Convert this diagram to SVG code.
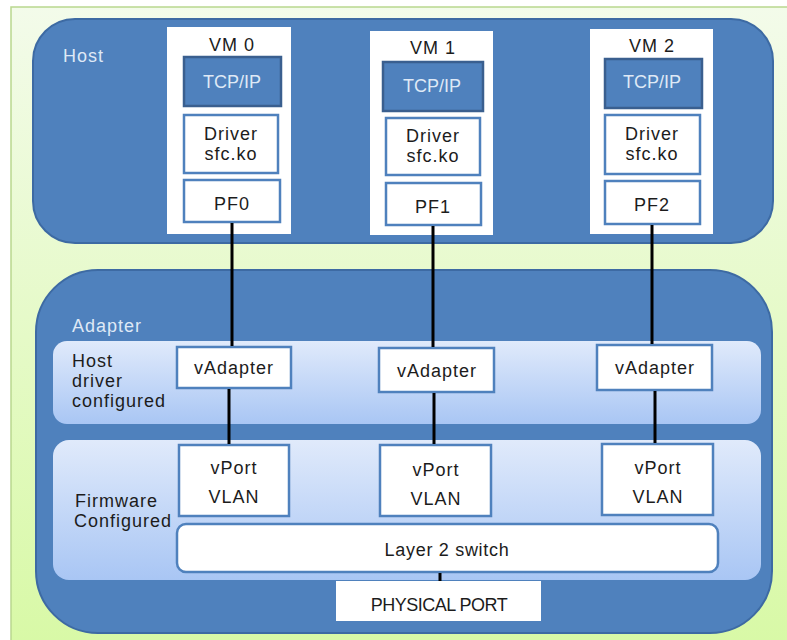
<svg xmlns="http://www.w3.org/2000/svg" width="787" height="640" viewBox="0 0 787 640">
<defs>
<linearGradient id="bg" x1="0" y1="0" x2="0" y2="1">
<stop offset="0" stop-color="#f3fbea"/>
<stop offset="1" stop-color="#d8f9a6"/>
</linearGradient>
<linearGradient id="band" x1="0" y1="0" x2="0" y2="1">
<stop offset="0" stop-color="#e0eafb"/>
<stop offset="1" stop-color="#a9c6f4"/>
</linearGradient>
<style>
text{font-family:"Liberation Sans",Arial,sans-serif;font-size:18px;fill:#1c1c1c;text-anchor:middle;letter-spacing:1px}
.cap{letter-spacing:-0.5px}
.tcpt{letter-spacing:0}
.lbl{text-anchor:start;fill:#1c1c1c}
.inv{fill:#dfe9f6}
.big{fill:#4f81bd;stroke:#3d6aa3;stroke-width:2}
.vm{fill:#ffffff}
.tcp{fill:#4f81bd;stroke:#3a5f8f;stroke-width:2.5}
.wb{fill:#ffffff;stroke:#4f81bd;stroke-width:2.5}
.band{fill:url(#band)}
.conn{stroke:#000;stroke-width:3;fill:none}
</style>
</defs>
<rect x="11" y="7" width="790" height="640" fill="url(#bg)" stroke="#b9d88e" stroke-width="1.5"/>

<g id="host">
<rect class="big" x="33" y="19" width="740" height="224" rx="42"/>
<text class="lbl inv" x="63" y="62">Host</text>
</g>

<g id="adapter">
<rect class="big" x="36" y="270" width="736" height="363" rx="62"/>
<text class="lbl inv" x="72" y="332">Adapter</text>
</g>

<g id="host-driver-band">
<rect class="band" x="53" y="341" width="708" height="83" rx="14"/>
<text class="lbl" x="72" y="367">Host</text>
<text class="lbl" x="72" y="387">driver</text>
<text class="lbl" x="72" y="407">configured</text>
</g>

<g id="firmware-band">
<rect class="band" x="53" y="440" width="708" height="140" rx="16"/>
<text class="lbl" x="75" y="507">Firmware</text>
<text class="lbl" x="74" y="527">Configured</text>
</g>

<g id="vm0">
<rect class="vm" x="167" y="27" width="124" height="207"/>
<text x="232" y="51">VM 0</text>
<rect class="tcp" x="184" y="57" width="97" height="49"/>
<text class="inv tcpt" x="232" y="88">TCP/IP</text>
<rect class="wb" x="184" y="115" width="94" height="58"/>
<text x="231" y="140">Driver</text>
<text x="231" y="160">sfc.ko</text>
<rect class="wb" x="184" y="180" width="96" height="42"/>
<text x="232" y="210">PF0</text>
</g>

<g id="vm1">
<rect class="vm" x="370" y="31" width="123" height="204"/>
<text x="433" y="54">VM 1</text>
<rect class="tcp" x="383" y="62" width="100" height="49"/>
<text class="inv tcpt" x="432" y="92">TCP/IP</text>
<rect class="wb" x="386" y="118" width="94" height="57"/>
<text x="433" y="142">Driver</text>
<text x="433" y="162">sfc.ko</text>
<rect class="wb" x="386" y="183" width="95" height="42"/>
<text x="433" y="213">PF1</text>
</g>

<g id="vm2">
<rect class="vm" x="590" y="29" width="123" height="205"/>
<text x="652" y="52">VM 2</text>
<rect class="tcp" x="605" y="59" width="97" height="49"/>
<text class="inv tcpt" x="652" y="88">TCP/IP</text>
<rect class="wb" x="605" y="115" width="95" height="59"/>
<text x="652" y="140">Driver</text>
<text x="652" y="160">sfc.ko</text>
<rect class="wb" x="605" y="181" width="95" height="43"/>
<text x="652" y="211">PF2</text>
</g>

<g id="vadapter0">
<rect class="wb" x="177" y="347" width="114" height="41"/>
<text x="234" y="374">vAdapter</text>
</g>
<g id="vadapter1">
<rect class="wb" x="379" y="348" width="115" height="44"/>
<text x="437" y="377">vAdapter</text>
</g>
<g id="vadapter2">
<rect class="wb" x="597" y="345" width="115" height="45"/>
<text x="655" y="374">vAdapter</text>
</g>

<g id="vport0">
<rect class="wb" x="179" y="445" width="110" height="71"/>
<text x="234" y="474">vPort</text>
<text x="234" y="503">VLAN</text>
</g>
<g id="vport1">
<rect class="wb" x="380" y="445" width="111" height="71"/>
<text x="436" y="476">vPort</text>
<text x="436" y="505">VLAN</text>
</g>
<g id="vport2">
<rect class="wb" x="602" y="444" width="111" height="71"/>
<text x="658" y="474">vPort</text>
<text x="658" y="503">VLAN</text>
</g>

<g id="layer2-switch">
<rect class="wb" x="177" y="524" width="541" height="48" rx="9"/>
<text x="447" y="556" style="letter-spacing:0.7px">Layer 2 switch</text>
</g>

<g id="physical-port">
<rect fill="#ffffff" x="336" y="581" width="205" height="40"/>
<text class="cap" x="439" y="611">PHYSICAL PORT</text>
</g>

<g id="connectors">
<line class="conn" x1="232" y1="223" x2="232" y2="346"/>
<line class="conn" x1="433" y1="226" x2="433" y2="347"/>
<line class="conn" x1="652" y1="225" x2="652" y2="344"/>
<line class="conn" x1="229" y1="389" x2="229" y2="444"/>
<line class="conn" x1="434" y1="393" x2="434" y2="444"/>
<line class="conn" x1="655" y1="391" x2="655" y2="443"/>
<line class="conn" x1="440" y1="573" x2="440" y2="581"/>
</g>
</svg>
